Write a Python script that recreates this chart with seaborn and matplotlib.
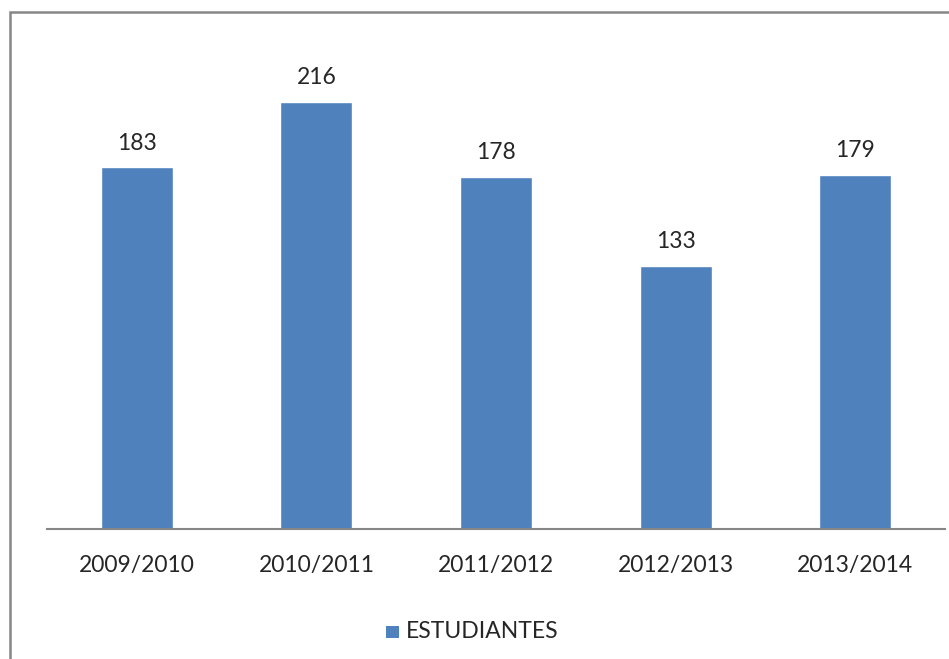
import matplotlib
matplotlib.use("Agg")
import matplotlib.pyplot as plt
import seaborn as sns
import pandas as pd
from matplotlib.patches import Rectangle

categories = ["2009/2010", "2010/2011", "2011/2012", "2012/2013", "2013/2014"]
values = [183, 216, 178, 133, 179]
series_name = "ESTUDIANTES"

sns.set_style("white")
plt.rcParams['font.family'] = ['Lato', 'DejaVu Sans']

W, H = 949, 659
FS = 16.5
fig = plt.figure(figsize=(W/100, H/100), dpi=100)
ax = fig.add_axes([47/W, (H-529)/H, (945-47)/W, (529-35)/H])

df = pd.DataFrame({"cat": categories, "val": values})
color = "#4F81BD"
sns.barplot(data=df, x="cat", y="val", color=color, width=0.4, ax=ax, saturation=1)

ax.set_ylim(0, 250)
ax.set_xlim(-0.5, len(categories)-0.5)
for s in ["top", "right", "left"]:
    ax.spines[s].set_visible(False)
ax.spines["bottom"].set_color("#868686")
ax.spines["bottom"].set_linewidth(1.5)
ax.set_yticks([])
ax.set_xlabel("")
ax.set_ylabel("")
ax.tick_params(axis="x", length=0, pad=19, labelsize=FS)

for i, v in enumerate(values):
    ax.annotate(str(v), xy=(i, v), xytext=(0, 17.5), textcoords="offset points",
                ha="center", va="center", fontsize=FS)

# legend
fig.patches.append(Rectangle((386/W, (H-638)/H), 13/W, 12/H, transform=fig.transFigure,
                             facecolor=color, edgecolor="none"))
fig.text(406/W, (H-632)/H, series_name, ha="left", va="center", fontsize=FS)

# outer border (chart frame)
fig.patches.append(Rectangle((10/W, -0.1), 1.2, (H-11.5)/H + 0.1, transform=fig.transFigure,
                             facecolor="none", edgecolor="#868686", linewidth=1.8))

fig.savefig("out.png", dpi=100)
